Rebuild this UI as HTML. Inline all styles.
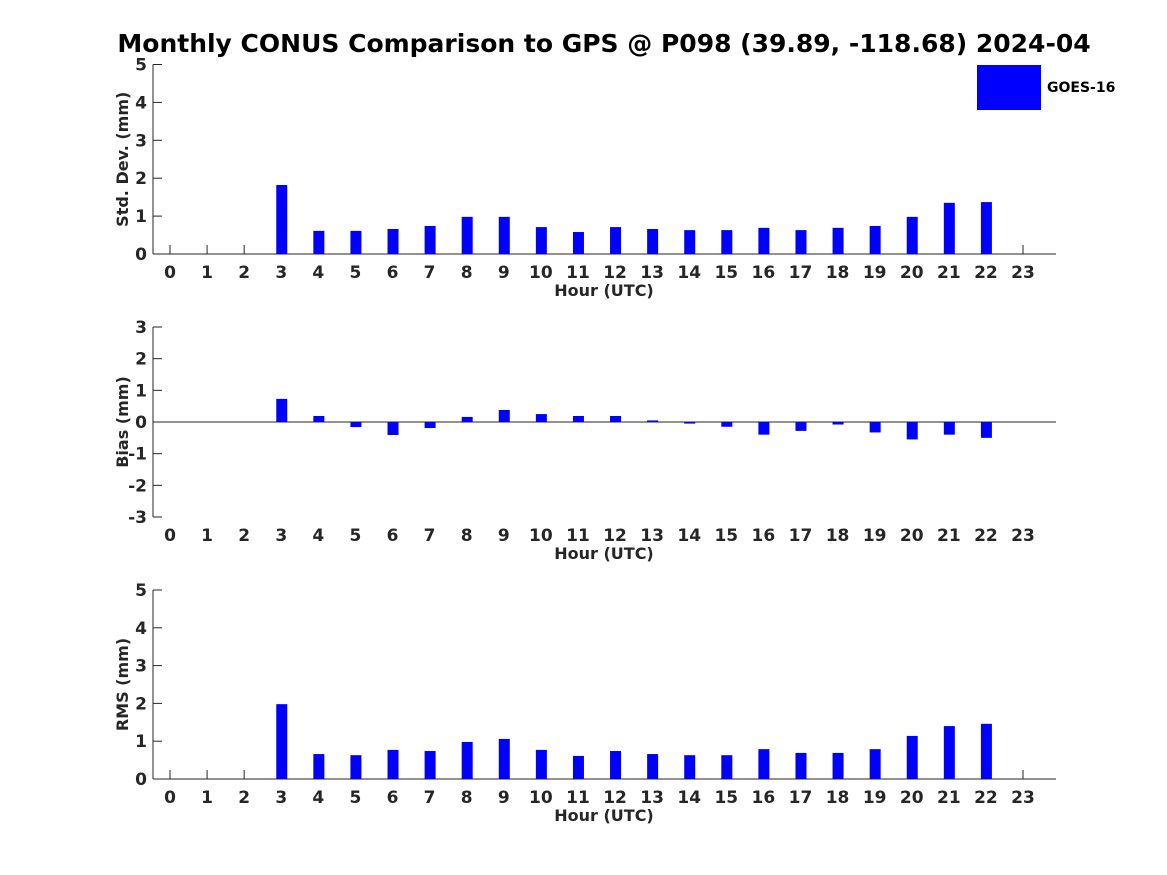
<!DOCTYPE html>
<html><head><meta charset="utf-8"><style>
body{margin:0;background:#fff;}
svg{display:block;font-family:"DejaVu Sans","Liberation Sans",sans-serif;font-weight:bold;}
</style></head><body>
<svg id="chart" width="1167" height="875" xmlns="http://www.w3.org/2000/svg">
<text x="604" y="52" text-anchor="middle" font-size="25" fill="#000">Monthly CONUS Comparison to GPS @ P098 (39.89, -118.68) 2024-04</text>
<rect x="977" y="65" width="64" height="45" fill="#0000ff"/>
<text x="1047" y="92" font-size="14" fill="#000">GOES-16</text>
</svg>
<script>
const hours=[0,1,2,3,4,5,6,7,8,9,10,11,12,13,14,15,16,17,18,19,20,21,22,23];
const stdValues=[null,null,null,1.82,0.61,0.61,0.66,0.74,0.98,0.98,0.71,0.58,0.71,0.66,0.63,0.63,0.69,0.63,0.69,0.74,0.98,1.35,1.37,null];
const biasValues=[null,null,null,0.73,0.19,-0.16,-0.41,-0.19,0.16,0.38,0.25,0.19,0.19,0.05,-0.05,-0.15,-0.4,-0.28,-0.08,-0.33,-0.55,-0.4,-0.5,null];
const rmsValues=[null,null,null,1.98,0.66,0.63,0.77,0.74,0.98,1.06,0.77,0.61,0.74,0.66,0.63,0.63,0.79,0.69,0.69,0.79,1.14,1.4,1.46,null];
const stdTicks=[0,1,2,3,4,5];
const biasTicks=[-3,-2,-1,0,1,2,3];
const rmsTicks=[0,1,2,3,4,5];
const NS="http://www.w3.org/2000/svg";
const svg=document.getElementById('chart');
function mk(tag,attrs){const e=document.createElementNS(NS,tag);for(const k in attrs)e.setAttribute(k,attrs[k]);svg.appendChild(e);return e;}
const X0=153,X1=1056;
function xs(h){return 170+h*(1023-170)/23;}
function panel(id,top,bottom,ymin,ymax,ticks,vals,ylabel,showStubs){
  const ys=v=>bottom-(v-ymin)/(ymax-ymin)*(bottom-top);
  const zeroY=ys(Math.max(ymin,0));
  let ax=mk('line',{x1:X0,y1:top,x2:X0,y2:bottom,stroke:'#262626','stroke-width':1});
  
  let bx=mk('line',{x1:X0,y1:zeroY,x2:X1,y2:zeroY,stroke:'#262626','stroke-width':1});
  
  ticks.forEach(t=>{
    const y=ys(t);
    let tl=mk('line',{x1:X0,y1:y,x2:X0+9,y2:y,stroke:'#262626'});
    
    let tx=mk('text',{x:X0-6,y:y+6,'text-anchor':'end','font-size':17,fill:'#262626'});
    tx.textContent=t;
    
  });
  hours.forEach((h,i)=>{
    let tx=mk('text',{x:xs(h),y:bottom+24,'text-anchor':'middle','font-size':17,fill:'#262626'});
    tx.textContent=h;
    
    const v=vals[i];
    if(v===null){
      if(showStubs){let s=mk('line',{x1:xs(h),y1:bottom,x2:xs(h),y2:bottom-9,stroke:'#262626'});
      }
      return;
    }
    const y1=ys(v),y0=ys(0);
    let r=mk('rect',{x:xs(h)-5,y:Math.min(y0,y1),width:11,height:Math.abs(y1-y0),fill:'#0000ff'});
    
  });
  let xl=mk('text',{x:604,y:bottom+42,'text-anchor':'middle','font-size':16,fill:'#262626'});
  xl.textContent='Hour (UTC)';
  
  const cy=(top+bottom)/2;
  let yl=mk('text',{x:0,y:0,'text-anchor':'middle','font-size':16,fill:'#262626',transform:`translate(128,${cy}) rotate(-90)`});
  yl.textContent=ylabel;
  
}
panel('std',64.5,254,0,5,stdTicks,stdValues,'Std. Dev. (mm)',true);
panel('bias',327,517,-3,3,biasTicks,biasValues,'Bias (mm)',false);
panel('rms',590,779,0,5,rmsTicks,rmsValues,'RMS (mm)',true);
</script>
</body></html>
